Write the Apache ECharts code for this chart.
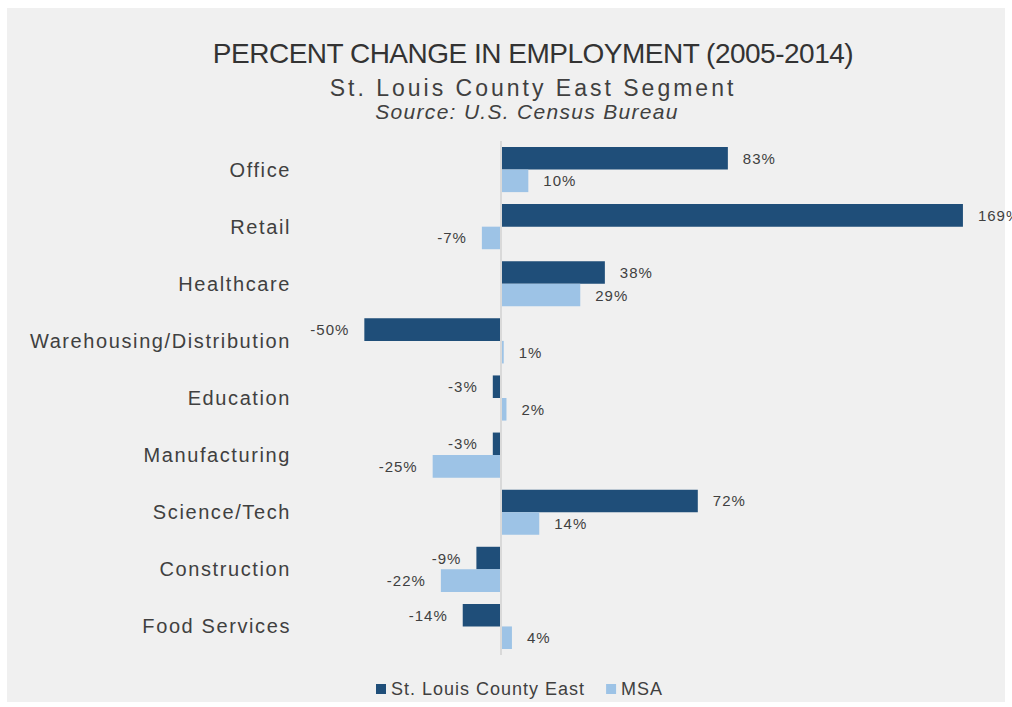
<!DOCTYPE html>
<html>
<head>
<meta charset="utf-8">
<title>Percent Change in Employment (2005-2014)</title>
<script src="https://cdn.jsdelivr.net/npm/echarts@6/dist/echarts.min.js"></script>
<style>
  html, body { margin: 0; padding: 0; background: #ffffff; }
  #panel { position: absolute; left: 7px; top: 8px; width: 998px; height: 694px; background: #f0f0f0; }
  #chart { position: absolute; left: 0; top: 0; width: 1012px; height: 707px; }
  /* tracking per text size */
  #chart svg text { letter-spacing: 1px; }
  #chart svg text[style*="28px"] { letter-spacing: -0.5px; }
  #chart svg text[style*="23px"] { letter-spacing: 3px; }
  #chart svg text[style*="italic"] { letter-spacing: 1.3px; }
  #chart svg text[style*="20px"] { letter-spacing: 1.6px; }
</style>
</head>
<body>
<div id="panel"></div>
<div id="chart"></div>
<script>
// Industry sectors, top to bottom
const categories = [
  'Office', 'Retail', 'Healthcare', 'Warehousing/Distribution', 'Education',
  'Manufacturing', 'Science/Tech', 'Construction', 'Food Services'
];
// Percent change in employment, 2005-2014
const stLouisEast = [83, 169, 38, -50, -3, -3, 72, -9, -14];
const msa = [10, -7, 29, 1, 2, -25, 14, -22, 4];
const seriesNames = ['St. Louis County East', 'MSA'];

const DARK = '#1f4e79';
const LIGHT = '#9dc3e6';
const TEXT = '#404040';
const FONT = 'Liberation Sans';

// negative bars carry their label on the left end
function withLabelSide(values) {
  return values.map(v => ({ value: v, label: { position: v < 0 ? 'left' : 'right' } }));
}

const barLabel = {
  show: true,
  distance: 15,
  formatter: p => p.value + '%',
  color: TEXT,
  fontFamily: FONT,
  fontSize: 15
};

const chart = echarts.init(document.getElementById('chart'), null, { renderer: 'svg' });
chart.setOption({
  backgroundColor: 'transparent',
  animation: false,
  title: [
    {
      text: 'PERCENT CHANGE IN EMPLOYMENT (2005-2014)',
      left: 528, top: 34, textAlign: 'center',
      textStyle: { fontFamily: FONT, fontWeight: 'normal', fontSize: 28, color: '#333333' }
    },
    {
      text: 'St. Louis County East Segment',
      left: 528, top: 71, textAlign: 'center',
      textStyle: { fontFamily: FONT, fontWeight: 'normal', fontSize: 23, color: TEXT }
    },
    {
      text: 'Source: U.S. Census Bureau',
      left: 522, top: 96, textAlign: 'center',
      textStyle: { fontFamily: FONT, fontStyle: 'italic', fontWeight: 'normal', fontSize: 21, color: TEXT }
    }
  ],
  legend: {
    data: seriesNames,
    left: 371,
    top: 675,
    itemWidth: 10,
    itemHeight: 10,
    itemGap: 42,
    icon: 'rect',
    textStyle: { fontFamily: FONT, fontSize: 18, color: TEXT }
  },
  grid: { left: 337, right: 19, top: 141, bottom: 52, containLabel: false },
  xAxis: {
    type: 'value',
    min: -60,
    max: 180,
    show: false,
    splitLine: { show: false }
  },
  yAxis: {
    type: 'category',
    data: categories,
    inverse: true,
    axisLine: { show: false },
    axisTick: { show: false },
    axisLabel: { margin: 46, fontFamily: FONT, fontSize: 20, color: TEXT }
  },
  series: [
    {
      name: seriesNames[0],
      type: 'bar',
      data: withLabelSide(stLouisEast),
      itemStyle: { color: DARK },
      barGap: '0%',
      barCategoryGap: '21%',
      label: barLabel,
      markLine: {
        silent: true,
        symbol: 'none',
        label: { show: false },
        lineStyle: { color: '#d9d9d9', width: 2, type: 'solid' },
        data: [{ xAxis: 0 }]
      }
    },
    {
      name: seriesNames[1],
      type: 'bar',
      data: withLabelSide(msa),
      itemStyle: { color: LIGHT },
      barGap: '0%',
      barCategoryGap: '21%',
      label: barLabel
    }
  ]
});
</script>
</body>
</html>
